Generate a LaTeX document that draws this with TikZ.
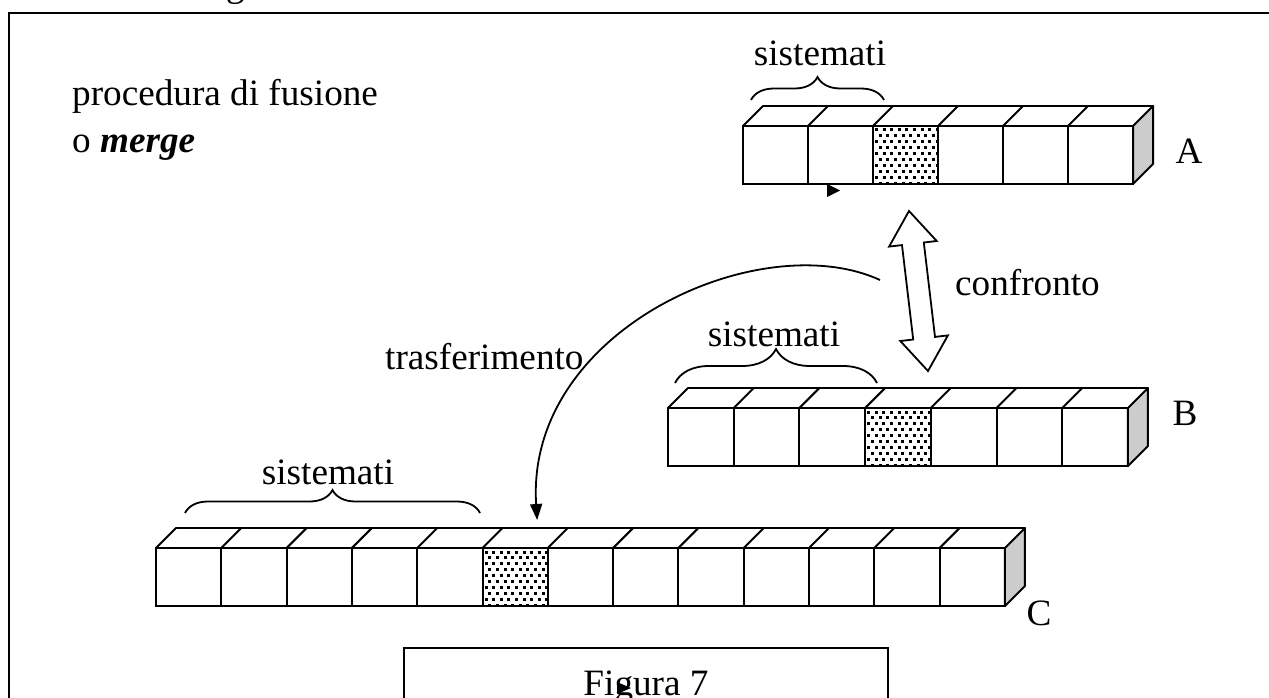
\documentclass[tikz,border=0pt]{standalone}
\usepackage{fontspec}
\setmainfont{Liberation Serif}
\usetikzlibrary{decorations.pathreplacing,arrows.meta,calc}
\tikzset{
 cellbox/.style={draw, line width=2pt, minimum height=58pt, inner sep=0pt, outer sep=0pt, fill=white},
 lbl/.style={font=\fontsize{37.2}{44}\selectfont, inner sep=0pt},
 brc/.style={decorate, decoration={brace, amplitude=#1}, line width=1.8pt},
 edgeline/.style={line width=2pt, line cap=round},
 sideface/.style={fill=black!20, draw, line width=2pt, line join=round},
 blockarrow/.style={draw, fill=white, line width=1.8pt, line join=miter}
}
\newcommand\dotcell[1]{%
 \begin{scope}
 \clip (#1.south west) rectangle (#1.north east);
 \foreach \rr in {0,...,9}{
   \foreach \qq in {0,...,8}{
     \fill ($(#1.north west)+({2+\qq*7.6+mod(\rr,2)*3.8},{2.5+\rr*5.9})$) rectangle ++(3,3);
   }
 }
 \end{scope}}
\newcommand\cellarray[6]{%
 \foreach \i in {1,...,#5}{
   \node[cellbox, minimum width=#4pt] (#1\i) at ({#2+(\i-0.5)*#4}, #3) {};
 }
 \foreach \i in {1,...,#5}{ \draw[edgeline] (#1\i.north west) -- ++(20,-20); }
 \draw[edgeline] ($(#11.north west)+(20,-20)$) -- ($(#1#5.north east)+(20,-20)$);
 \draw[sideface] (#1#5.north east) -- ++(20,-20) -- ++(0,58) -- (#1#5.south east) -- cycle;
 \dotcell{#1#6}%
}
\begin{document}
\begin{tikzpicture}[x=1pt,y=-1pt]
\useasboundingbox (0,0) rectangle (1269,698);
\clip (0,0) rectangle (1269,698);

% frame
\draw[line width=2pt] (8.5,710) -- (8.5,13) -- (1280,13);
\node[lbl, anchor=base west] (topfrag) at (226,-3) {g};

% title
\node[lbl, anchor=base west] (title1) at (72,106) {procedura di fusione};
\node[lbl, anchor=base west] (title2) at (72,153) {o \textbf{\textit{merge}}};

% arrays
\cellarray{A}{743}{155}{65}{6}{3}
\cellarray{B}{668}{437}{65.7}{7}{4}
\cellarray{C}{156}{577}{65.3}{13}{6}

% array labels
\node[lbl, anchor=base] (labA) at (1189,164) {A};
\node[lbl, anchor=base] (labB) at (1185,425) {B};
\node[lbl, anchor=base] (labC) at (1039,625) {C};

% braces and texts
\draw[brc=23pt] (751,100) -- (884,100);
\node[lbl, anchor=base] (sA) at (820,66) {sistemati};
\draw[brc=34pt] (675,383) -- (877,383);
\node[lbl, anchor=base] (sB) at (774,346) {sistemati};
\draw[brc=23pt] (185,513) -- (480,513);
\node[lbl, anchor=base] (sC) at (328,484) {sistemati};

% small pointer under A
\fill (827,184) -- (827,197) -- (840,190.5) -- cycle;

% confronto double arrow
\draw[blockarrow] (909,211) -- (936.7,241.0) -- (923.8,242.5) -- (935.0,336.9) -- (947.9,335.4)
  -- (928,371) -- (900.3,341.0) -- (913.2,339.5) -- (902.0,245.1) -- (889.1,246.6) -- cycle;
\node[lbl, anchor=base west] (conf) at (955,295) {confronto};

% trasferimento curve
\coordinate (tstart) at (880,280);
\coordinate (ttip) at ($(C6.north)+(22,-28)$);
\draw[line width=1.8pt, -{Triangle[length=16pt,width=12pt]}] (tstart) .. controls (760,225) and (525,330) .. (ttip);
\node[lbl, anchor=base west] (trasf) at (385,369) {trasferimento};

% figure caption box
\draw[line width=1.8pt] (404,710) -- (404,648) -- (888,648) -- (888,710);
\node[lbl, anchor=base] (fig) at (646,695) {Figura 7};
\fill (617,682) -- (617,694) -- (631,688) -- cycle;
\end{tikzpicture}
\end{document}
